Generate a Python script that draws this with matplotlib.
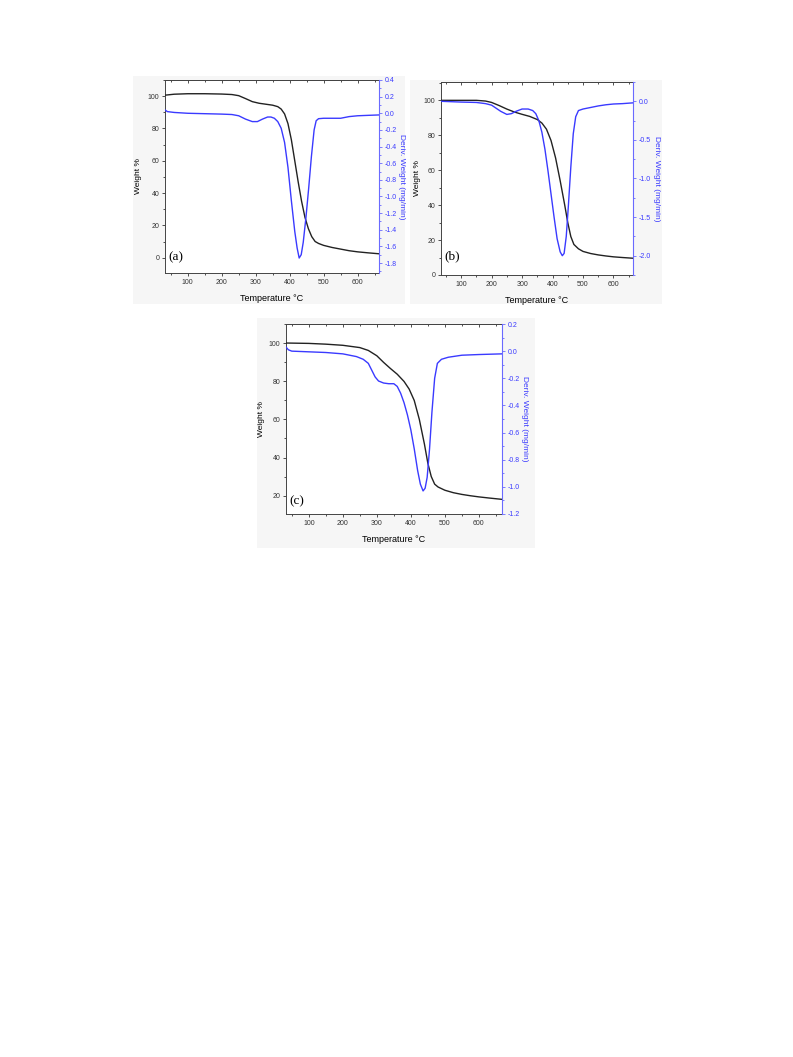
import numpy as np
import matplotlib.pyplot as plt
from matplotlib.patches import Rectangle
from matplotlib.ticker import MultipleLocator

plt.rcParams['font.family'] = ['Liberation Sans', 'DejaVu Sans']

# panel (a) data
temp_a = [33, 60, 100, 150, 200, 230, 250, 270, 290, 310, 330, 350, 365, 375, 385, 395, 405,
          415, 425, 435, 445, 455, 465, 475, 485, 500, 525, 550, 575, 600, 630, 663]
weight_a = [100.6, 101.2, 101.5, 101.5, 101.3, 101.0, 100.3, 98.5, 96.6, 95.6, 95.0, 94.4, 93.5,
            92.0, 89.0, 83.0, 73.0, 60.0, 47.0, 35.0, 25.0, 18.0, 13.0, 10.0, 8.8, 7.6, 6.3, 5.3,
            4.3, 3.6, 3.0, 2.4]
temp_da = [33, 40, 60, 100, 150, 200, 230, 250, 270, 290, 305, 320, 335, 345, 355, 365, 375, 385,
           395, 405, 415, 422, 428, 434, 440, 448, 456, 464, 472, 478, 485, 500, 525, 550, 575,
           600, 630, 663]
deriv_a = [0.04, 0.02, 0.01, 0.0, -0.005, -0.01, -0.015, -0.03, -0.07, -0.10, -0.10, -0.07,
           -0.045, -0.045, -0.06, -0.10, -0.18, -0.35, -0.65, -1.05, -1.42, -1.62, -1.74, -1.70,
           -1.55, -1.25, -0.90, -0.52, -0.20, -0.09, -0.065, -0.06, -0.06, -0.06, -0.04, -0.03,
           -0.025, -0.02]

# panel (b)
temp_b = [34, 100, 150, 180, 200, 225, 250, 275, 300, 325, 350, 365, 380, 395, 410, 425, 440,
          450, 460, 470, 485, 500, 525, 550, 575, 600, 630, 664]
weight_b = [100.0, 100.0, 100.0, 99.6, 98.8, 97.0, 95.0, 93.3, 92.0, 90.8, 89.0, 87.0, 83.5, 77.0,
            67.0, 54.0, 40.0, 30.0, 22.0, 17.5, 15.0, 13.5, 12.3, 11.5, 10.9, 10.4, 10.0, 9.6]
temp_db = [34, 100, 150, 180, 200, 215, 230, 250, 265, 280, 300, 320, 335, 345, 355, 365, 375,
           385, 395, 405, 415, 425, 432, 438, 445, 452, 460, 468, 476, 485, 500, 525, 550, 575,
           600, 630, 664]
deriv_b = [0.0, -0.01, -0.015, -0.03, -0.05, -0.09, -0.13, -0.17, -0.16, -0.13, -0.10, -0.10,
           -0.12, -0.16, -0.25, -0.40, -0.62, -0.90, -1.20, -1.50, -1.78, -1.95, -2.0, -1.97,
           -1.75, -1.35, -0.85, -0.42, -0.20, -0.12, -0.10, -0.08, -0.06, -0.045, -0.035,
           -0.03, -0.02]

# panel (c)
temp_c = [33, 100, 150, 200, 250, 275, 300, 320, 340, 360, 380, 395, 410, 425, 440, 450, 460,
          470, 480, 500, 525, 550, 575, 600, 630, 668]
weight_c = [100.2, 100.0, 99.6, 99.0, 97.8, 96.3, 93.5, 90.0, 86.8, 83.8, 80.0, 76.0, 70.0, 60.0,
            47.0, 37.0, 30.0, 26.0, 24.5, 22.8, 21.5, 20.6, 19.9, 19.3, 18.7, 18.0]
temp_dc = [33, 40, 50, 100, 150, 200, 240, 260, 275, 285, 295, 305, 320, 335, 350, 360, 370, 380,
           390, 400, 410, 420, 428, 436, 442, 448, 455, 462, 470, 478, 490, 510, 550, 600, 668]
deriv_c = [0.03, 0.01, 0.0, -0.005, -0.01, -0.02, -0.04, -0.06, -0.09, -0.14, -0.19, -0.22,
           -0.235, -0.24, -0.24, -0.26, -0.31, -0.38, -0.47, -0.58, -0.72, -0.88, -0.98, -1.03,
           -1.01, -0.93, -0.72, -0.45, -0.20, -0.09, -0.06, -0.045, -0.03, -0.025, -0.02]

BLUE = '#3a3aff'
BLUE_AX = '#6a6aff'


def px_axes(fig, l, t, r, b):
    W, H = fig.get_size_inches() * fig.dpi
    return fig.add_axes([l / W, 1 - b / H, (r - l) / W, (b - t) / H])


def backdrop(fig, l, t, r, b):
    W, H = fig.get_size_inches() * fig.dpi
    fig.patches.append(Rectangle((l / W, 1 - b / H), (r - l) / W, (b - t) / H,
                                 transform=fig.transFigure, facecolor='#f6f6f6',
                                 edgecolor='none', zorder=-10))


def panel(fig, box, temp, weight, temp_d, deriv, xlim, ylim, ylim2, ystep, dstep, dminor,
          tag, tag_y, ypad=4, dpad=7):
    ax = px_axes(fig, *box)
    ax.plot(temp, weight, color='#222222', lw=1.0, zorder=3)
    ax.set_xlim(*xlim)
    ax.set_ylim(*ylim)
    ax.xaxis.set_major_locator(MultipleLocator(100))
    ax.xaxis.set_minor_locator(MultipleLocator(50))
    ax.yaxis.set_major_locator(MultipleLocator(ystep))
    ax.yaxis.set_minor_locator(MultipleLocator(ystep / 2))
    ax.tick_params(which='both', direction='out', labelsize=5, width=0.6, colors='#333333')
    ax.tick_params(which='major', length=2.5, pad=1.5)
    ax.tick_params(which='minor', length=1.5)
    for s in ax.spines.values():
        s.set_linewidth(0.7)
        s.set_color('#444444')
    ax.set_xlabel('Temperature °C', fontsize=6.5, labelpad=6)
    ax.set_ylabel('Weight %', fontsize=6, labelpad=ypad)
    ax.text(0.015, tag_y, tag, transform=ax.get_yaxis_transform(), fontsize=9.5,
            family='Liberation Serif', va='center', ha='left')

    # ticks on the top frame point inwards
    top = ax.secondary_xaxis('top')
    top.xaxis.set_major_locator(MultipleLocator(100))
    top.xaxis.set_minor_locator(MultipleLocator(50))
    top.tick_params(which='both', direction='in', labeltop=False, width=0.6, colors='#333333')
    top.tick_params(which='major', length=2.5)
    top.tick_params(which='minor', length=1.5)
    top.spines['top'].set_linewidth(0.7)
    top.spines['top'].set_color('#444444')

    ax2 = ax.twinx()
    ax2.plot(temp_d, deriv, color=BLUE, lw=1.0, zorder=3)
    ax2.set_xlim(*xlim)
    ax2.set_ylim(*ylim2)
    ax2.yaxis.set_major_locator(MultipleLocator(dstep))
    ax2.yaxis.set_minor_locator(MultipleLocator(dminor))
    ax2.tick_params(which='both', direction='out', labelsize=5, width=0.6, colors=BLUE_AX,
                    labelcolor=BLUE)
    ax2.tick_params(which='major', length=2.5, pad=1.5)
    ax2.tick_params(which='minor', length=1.5)
    ax2.spines['right'].set_color(BLUE_AX)
    ax2.spines['right'].set_linewidth(0.8)
    for k in ('left', 'top', 'bottom'):
        ax2.spines[k].set_visible(False)
    ax2.set_ylabel('Deriv. Weight (mg/min)', fontsize=6, color=BLUE, rotation=-90,
                   labelpad=dpad)
    ax2.yaxis.set_major_formatter(plt.FuncFormatter(lambda v, p: f'{v:.1f}'))
    return ax, ax2


fig = plt.figure(figsize=(7.93, 10.57), dpi=100)
backdrop(fig, 133, 76, 405, 304)
backdrop(fig, 410, 80, 662, 304)
backdrop(fig, 257, 318, 535, 548)

panel(fig, (165, 80, 379, 273), temp_a, weight_a, temp_da, deriv_a,
      (33, 663), (-9.5, 110), (-1.92, 0.4), 20, 0.2, 0.1, '(a)', 0, ypad=4, dpad=6)
panel(fig, (441, 82, 633, 275), temp_b, weight_b, temp_db, deriv_b,
      (34, 664), (0, 110.5), (-2.25, 0.25), 20, 0.5, 0.25, '(b)', 10.5, ypad=2, dpad=6.5)
panel(fig, (286, 324, 502, 514), temp_c, weight_c, temp_dc, deriv_c,
      (33, 668), (10.3, 110.2), (-1.2, 0.2), 20, 0.2, 0.1, '(c)', 16.8, ypad=2.5, dpad=6)

fig.savefig('out.png', dpi=100)
